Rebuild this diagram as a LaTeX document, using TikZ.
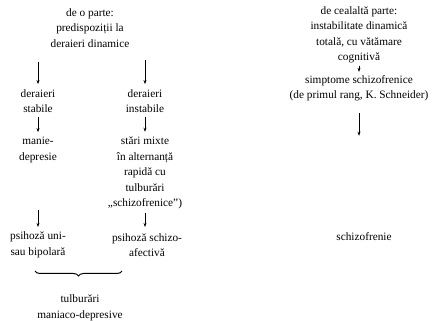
\documentclass[tikz,border=0pt]{standalone}
\usepackage{fontspec}
\setmainfont{Liberation Serif}
\usetikzlibrary{arrows.meta,positioning,decorations.pathreplacing}

\begin{document}
\begin{tikzpicture}[
  x=1pt,y=1pt,
  font=\fontsize{11.3}{15.5}\selectfont,
  >={Stealth[length=4pt,width=3pt]},
  txt/.style={align=center,inner sep=0pt},
  arr/.style={->,line width=0.5pt,shorten <=#1,shorten >=5pt},
  arr/.default=14pt,
]
\useasboundingbox (0,0) rectangle (442,321);

% left side: predispositions
\node[txt] (left) at (90,293) {de o parte:\\ predispoziții la\\ deraieri dinamice};
\node[txt] (stab)   at (38,220)  {deraieri\\ stabile};
\node[txt] (instab) at (145,220) {deraieri\\ instabile};
\node[txt] (manie)  at (38,171)  {manie-\\ depresie};
\node[txt] (mixte)  at (145,148) {stări mixte\\ în alternanță\\ rapidă cu\\ tulburări\\ „schizofrenice”)};
\node[txt] (uni)    at (38,76)   {psihoză uni-\\ sau bipolară};
\node[txt] (schaf)  at (147,76)  {psihoză schizo-\\ afectivă};
\node[txt] (tulb)   at (80,13)   {tulburări\\ maniaco-depresive};

% right side: total instability
\node[txt] (right)  at (359,286) {de cealaltă parte:\\ instabilitate dinamică\\ totală, cu vătămare\\ cognitivă};
\node[txt] (simpt)  at (359,233) {simptome schizofrenice\\ (de primul rang, K. Schneider)};
\node[txt] (schizo) at (364,84)  {schizofrenie};

% arrows
\draw[arr] (left.south -| stab) -- (stab.north);
\draw[arr=12pt] (left.south -| instab) -- (instab.north);
\draw[arr=4pt] (stab) -- (manie);
\draw[arr=4pt] (instab) -- (mixte);
\draw[arr=47pt] (manie) -- (uni);
\draw[arr=4pt] (mixte.south -| instab) -- (uni.north -| instab);
\draw[arr=2pt,shorten >=3pt] (right.south -| simpt) -- (simpt);
\draw[arr=12pt,shorten >=97pt] (simpt) -- (schizo.north -| simpt);

% brace
\draw[line width=1pt,decorate,decoration={brace,mirror,amplitude=5pt}] (35,50) -- (122,50);

\end{tikzpicture}
\end{document}
